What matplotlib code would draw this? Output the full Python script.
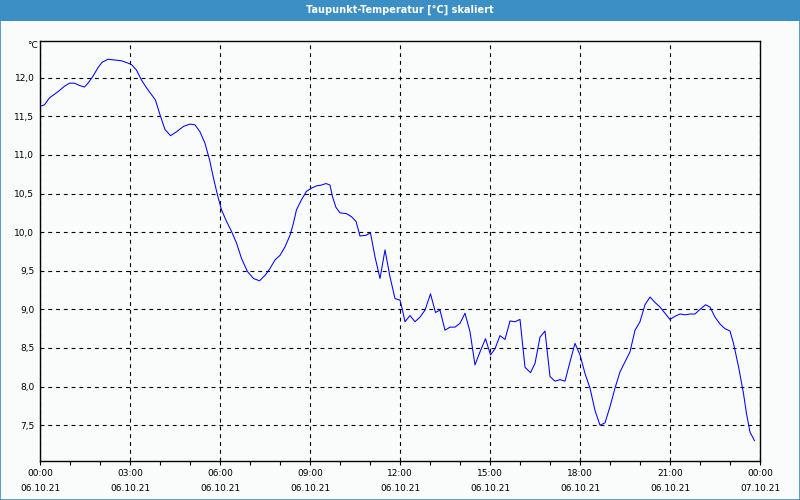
"""Taupunkt-Temperatur chart (dew point, scaled)."""

import matplotlib

matplotlib.use('Agg')

import matplotlib.pyplot as plt
from matplotlib.patches import Rectangle

# minutes since 06.10.21 00:00 and dew point in degC
minutes = [
    0, 9, 19, 36, 49, 59, 69, 79, 89, 96, 106, 116, 124, 136, 149, 163,
    176, 183, 193, 203, 213, 223, 231, 237, 240, 250, 261, 273, 287, 300,
    310, 320, 330, 339, 347, 355, 363, 373, 383, 393, 403, 415, 427, 439,
    450, 460, 470, 480, 490, 500, 507, 513, 523, 533, 543, 553, 563, 572,
    580, 585, 592, 600, 613, 623, 632, 640, 652, 661, 670, 680, 690, 700,
    710, 720, 725, 730, 740, 750, 760, 770, 781, 791, 800, 810, 820, 830,
    840, 850, 860, 870, 880, 891, 901, 910, 920, 930, 940, 950, 960, 967,
    970, 981, 990, 1000, 1010, 1020, 1030, 1040, 1050, 1060, 1070, 1080,
    1090, 1100, 1110, 1120, 1130, 1140, 1150, 1160, 1170, 1180, 1190, 1200,
    1210, 1220, 1230, 1240, 1250, 1260, 1270, 1280, 1290, 1300, 1310, 1320,
    1331, 1340, 1350, 1360, 1370, 1380, 1387, 1397, 1407, 1413, 1420, 1429,
]
dewpoint = [
    11.63, 11.65, 11.74, 11.82, 11.89, 11.93, 11.93, 11.90, 11.88, 11.93,
    12.02, 12.13, 12.20, 12.24, 12.23, 12.22, 12.19, 12.17, 12.10, 11.97,
    11.87, 11.78, 11.71, 11.58, 11.52, 11.33, 11.25, 11.30, 11.37, 11.40,
    11.39, 11.30, 11.15, 10.94, 10.70, 10.48, 10.29, 10.14, 10.01, 9.86,
    9.66, 9.49, 9.40, 9.37, 9.44, 9.53, 9.64, 9.70, 9.81, 9.96, 10.12,
    10.29, 10.42, 10.53, 10.57, 10.60, 10.61, 10.63, 10.61, 10.46, 10.32,
    10.25, 10.24, 10.20, 10.14, 9.95, 9.96, 9.99, 9.68, 9.40, 9.77, 9.42,
    9.14, 9.12, 8.99, 8.84, 8.92, 8.84, 8.90, 8.99, 9.20, 8.96, 8.99, 8.73,
    8.77, 8.77, 8.82, 8.95, 8.71, 8.28, 8.45, 8.62, 8.41, 8.49, 8.66, 8.61,
    8.85, 8.84, 8.87, 8.43, 8.25, 8.18, 8.30, 8.64, 8.72, 8.13, 8.07, 8.09,
    8.07, 8.32, 8.56, 8.41, 8.17, 7.98, 7.69, 7.50, 7.53, 7.74, 7.98, 8.19,
    8.32, 8.45, 8.73, 8.84, 9.06, 9.16, 9.09, 9.03, 8.95, 8.87, 8.91, 8.94,
    8.93, 8.94, 8.94, 9.00, 9.06, 9.03, 8.90, 8.81, 8.75, 8.72, 8.56, 8.26,
    7.91, 7.65, 7.41, 7.30,
]

x_ticks = [0, 3, 6, 9, 12, 15, 18, 21, 24]
x_labels = [
    '00:00\n06.10.21', '03:00\n06.10.21', '06:00\n06.10.21', '09:00\n06.10.21',
    '12:00\n06.10.21', '15:00\n06.10.21', '18:00\n06.10.21', '21:00\n06.10.21',
    '00:00\n07.10.21',
]
y_ticks = [7.5, 8.0, 8.5, 9.0, 9.5, 10.0, 10.5, 11.0, 11.5, 12.0]

BG = '#f9fcfa'
BAR = '#3c8fc4'

fig = plt.figure(figsize=(8, 5), dpi=100, facecolor=BG)
ax = fig.add_axes([0.05, 0.0786, 0.9, 0.84], facecolor=BG)

hours = [m / 60 for m in minutes]
ax.plot(hours, dewpoint, color='#0000ff', lw=0.75)

ax.set_xlim(0, 24)
ax.set_ylim(7.04, 12.48)
ax.set_xticks(x_ticks)
ax.set_xticklabels(x_labels, fontsize=6.5, linespacing=1.9)
ax.set_xticks(range(25), minor=True)
ax.set_yticks(y_ticks)
ax.set_yticklabels([f'{v:.1f}'.replace('.', ',') for v in y_ticks], fontsize=6.5)
ax.tick_params(axis='x', which='both', direction='out', length=3, width=0.8,
               pad=3, colors='black')
ax.tick_params(axis='y', length=0, pad=4)

ax.grid(True, color='black', lw=0.8, linestyle=(0, (3.5, 3.5)))
for sp in ax.spines.values():
    sp.set_color('black')
    sp.set_linewidth(1.0)

# unit label above the y axis
fig.text(0.04, 1 - 45 / 500, '°C', fontsize=6.5, ha='center', va='center')

# title bar and frame
fig.patches.append(Rectangle((0, 1 - 21 / 500), 1, 21 / 500, transform=fig.transFigure,
                             facecolor=BAR, edgecolor='none', zorder=0))
fig.patches.append(Rectangle((0.0006, 0.001), 0.9988, 0.998, transform=fig.transFigure,
                             facecolor='none', edgecolor=BAR, lw=1.2, zorder=1))
fig.text(0.5, 1 - 9.5 / 500, 'Taupunkt-Temperatur [°C] skaliert', color='white',
         fontsize=7, fontweight='bold', ha='center', va='center')

fig.savefig('out.png', dpi=100, facecolor=BG)
